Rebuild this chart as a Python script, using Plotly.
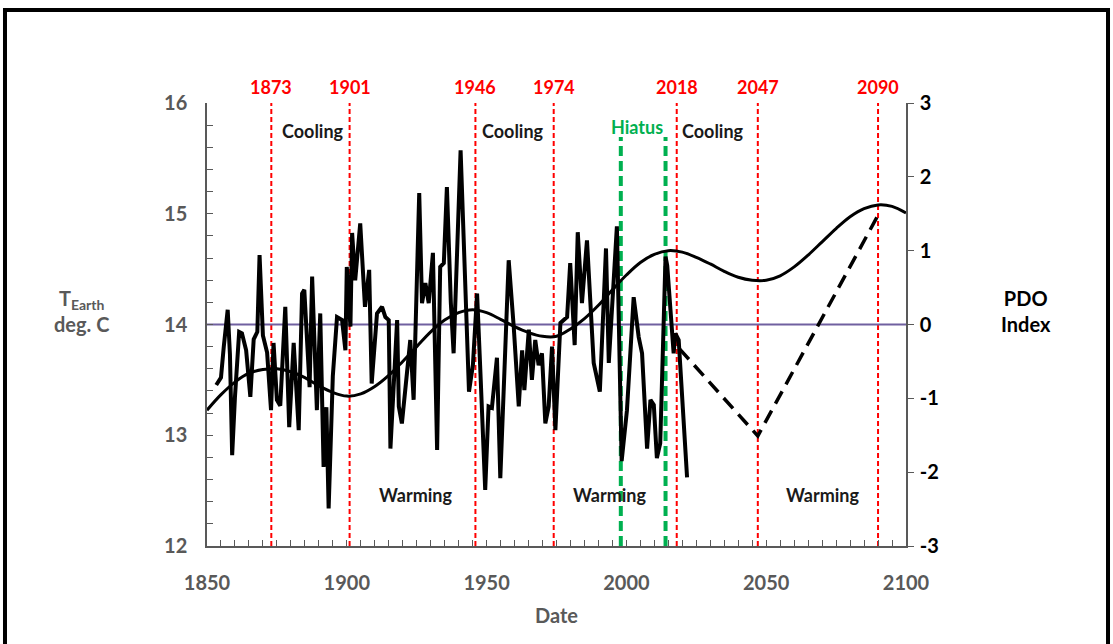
import plotly.graph_objects as go

# Annual PDO index (right axis)
pdo_year = [1853.3, 1855, 1856, 1857.4, 1858.2, 1859, 1860, 1861.5, 1862.5, 1864,
            1865.5, 1866.7, 1868, 1868.8, 1870, 1871.5, 1872.9, 1873.8, 1875, 1876.2,
            1878, 1879.4, 1881, 1882.8, 1884, 1884.8, 1886.7, 1887.6, 1889.3, 1890.5,
            1891.7, 1892.7, 1893.5, 1895, 1896.5, 1898.3, 1899.5, 1900, 1901.3, 1901.9,
            1903, 1904.8, 1906.5, 1908, 1908.9, 1910.8, 1912.6, 1913.8, 1915, 1915.6,
            1918, 1918.6, 1919.7, 1922.7, 1923.9, 1925.9, 1926.9, 1928.1, 1929.3, 1930.8,
            1932.3, 1933.4, 1934.7, 1935.8, 1937.2, 1938.2, 1940.7, 1943.7, 1945.1, 1946.6,
            1947.8, 1949.5, 1950.7, 1951.9, 1953.7, 1954.9, 1957.9, 1959.7, 1961.5, 1962.7,
            1963.5, 1965.1, 1966.2, 1967.4, 1968.6, 1969.8, 1971, 1972.2, 1973.4, 1974.6,
            1976.4, 1978.8, 1979.9, 1981.5, 1982.6, 1984.1, 1985.9, 1988.3, 1990.5, 1992.7,
            1993.7, 1995.2, 1996.6, 1998.3, 2000.2, 2002.6, 2004.4, 2005.6, 2007.4, 2008.6,
            2009.8, 2010.9, 2012.1, 2014, 2014.6, 2016.9, 2017.5, 2018.7, 2021.7]
pdo_value = [-0.82, -0.72, -0.3, 0.2, -0.4, -1.77, -0.98, -0.1, -0.12, -0.35,
             -0.98, -0.2, -0.1, 0.94, -0.15, -0.38, -1.16, -0.25, -1.02, -1.1,
             0.24, -1.39, -0.25, -1.43, 0.42, 0.47, -0.85, 0.65, -1.16, 0.15,
             -1.93, -1.12, -2.49, -0.7, 0.1, 0.06, -0.35, 0.78, -0.03, 1.24,
             0.6, 1.37, 0.24, 0.74, -0.8, 0.15, 0.24, 0.1, 0.06, -1.68,
             0.06, -1.11, -1.34, -0.21, -1.02, 1.78, 0.29, 0.56, 0.29, 0.97,
             -1.7, 0.78, 0.83, 1.86, 0.3, -0.39, 2.36, -0.91, -0.55, 0.42,
             -0.66, -2.24, -1.11, -1.13, -0.45, -2.08, 0.87, -0.03, -1.11, -0.35,
             -0.89, -0.07, -0.75, -0.21, -0.55, -0.39, -1.34, -1.11, -0.3, -1.43,
             0.02, 0.1, 0.83, -0.28, 1.25, 0.29, 1.14, -0.52, -0.91, 1.03,
             -0.52, 0.4, 1.33, -1.85, -1.16, 0.37, -0.17, -0.39, -1.68, -1.02,
             -1.09, -1.81, -1.61, 0.92, 0.8, -0.39, -0.12, -0.21, -2.07]

# Long-period oscillation of the index
cycle_year = [1850, 1855, 1860, 1865, 1870, 1875, 1880, 1885, 1890, 1895,
              1900, 1905, 1910, 1915, 1920, 1925, 1930, 1935, 1940, 1945,
              1950, 1955, 1960, 1965, 1970, 1975, 1980, 1985, 1990, 1995,
              2000, 2005, 2010, 2015, 2020, 2025, 2030, 2035, 2040, 2045,
              2050, 2055, 2060, 2065, 2070, 2075, 2080, 2085, 2090, 2095, 2100]
cycle_value = [-1.16, -0.95, -0.78, -0.66, -0.61, -0.6, -0.64, -0.72, -0.83, -0.92,
               -0.97, -0.94, -0.84, -0.69, -0.5, -0.3, -0.1, 0.06, 0.16, 0.2,
               0.16, 0.07, -0.03, -0.11, -0.16, -0.16, -0.06, 0.08, 0.26, 0.47,
               0.67, 0.84, 0.95, 1.0, 0.98, 0.91, 0.82, 0.72, 0.64, 0.6,
               0.6, 0.66, 0.78, 0.94, 1.12, 1.3, 1.46, 1.57, 1.62, 1.6, 1.51]

# Projected path of the index
proj_year = [2019, 2047, 2090]
proj_value = [-0.33, -1.51, 1.48]

# Phase boundaries
phase_years = [1873, 1901, 1946, 1974, 2018, 2047, 2090]
hiatus_years = [1998, 2014]

cooling_pos = [1887.9, 1959.4, 2031]
warming_pos = [1924.4, 1993.8, 2070]

x_ticks = [1850, 1900, 1950, 2000, 2050, 2100]
t_range = [12, 16]
pdo_range = [-3, 3]
pdo_ticks = [-3, -2, -1, 0, 1, 2, 3]
pdo_tick_text = ["-3", "-2", "-1", "0", "1", "2", "3"]

FONT = "Lato"
GRAY = "#595959"
RED = "#ff0000"
GREEN = "#00b050"

fig = go.Figure()

# Reference line at 14 deg C / PDO 0
fig.add_trace(go.Scatter(x=[1850, 2100], y=[14, 14], mode="lines",
                         line=dict(color="#7060a0", width=2),
                         yaxis="y", showlegend=False, hoverinfo="skip"))

fig.add_trace(go.Scatter(x=pdo_year, y=pdo_value, mode="lines",
                         line=dict(color="black", width=4),
                         yaxis="y2", showlegend=False))
fig.add_trace(go.Scatter(x=cycle_year, y=cycle_value, mode="lines",
                         line=dict(color="black", width=3, shape="spline"),
                         yaxis="y2", showlegend=False))
fig.add_trace(go.Scatter(x=proj_year, y=proj_value, mode="lines",
                         line=dict(color="black", width=3.5, dash="14px,8px"),
                         yaxis="y2", showlegend=False))

shapes = []
annotations = []

for yr in phase_years:
    shapes.append(dict(type="line", xref="x", yref="paper", x0=yr, x1=yr, y0=0, y1=1,
                       layer="below",
                       line=dict(color=RED, width=2, dash="5px,3px")))
    annotations.append(dict(x=yr, xref="x", y=1.036, yref="paper", text=str(yr),
                            showarrow=False, yanchor="middle",
                            font=dict(family=FONT, size=18, color=RED, weight="bold")))

for yr in hiatus_years:
    shapes.append(dict(type="line", xref="x", yref="paper", x0=yr, x1=yr, y0=0, y1=0.923,
                       layer="below",
                       line=dict(color=GREEN, width=4, dash="10px,5px")))
annotations.append(dict(x=2003.8, xref="x", y=15.78, yref="y", text="Hiatus",
                        showarrow=False,
                        font=dict(family=FONT, size=18, color=GREEN, weight="bold")))

for xp in cooling_pos:
    annotations.append(dict(x=xp, xref="x", y=15.75, yref="y", text="Cooling",
                            showarrow=False,
                            font=dict(family=FONT, size=18, color="#1a1a1a", weight="bold")))
for xp in warming_pos:
    annotations.append(dict(x=xp, xref="x", y=12.46, yref="y", text="Warming",
                            showarrow=False,
                            font=dict(family=FONT, size=18, color="#1a1a1a", weight="bold")))

# Axis titles
annotations.append(dict(x=-0.179, xref="paper", y=0.53, yref="paper",
                        xanchor="center", yanchor="middle",
                        text="T<sub>Earth</sub><br>deg. C", showarrow=False,
                        align="center",
                        font=dict(family=FONT, size=20, color=GRAY, weight="bold")))
annotations.append(dict(x=1.1717, xref="paper", y=0.53, yref="paper",
                        xanchor="center", yanchor="middle",
                        text="PDO<br>Index", showarrow=False, align="center",
                        font=dict(family=FONT, size=20, color="black", weight="bold")))
annotations.append(dict(x=0.5, xref="paper", y=-0.156, yref="paper", text="Date",
                        xanchor="center", yanchor="middle", showarrow=False,
                        font=dict(family=FONT, size=20, color=GRAY, weight="bold")))

# Outer frame
shapes.append(dict(type="rect", xref="paper", yref="paper",
                   x0=-0.289, x1=1.289, y0=-0.3, y1=1.21,
                   line=dict(color="black", width=4), layer="below"))

fig.update_layout(
    width=1113, height=644,
    margin=dict(l=207, r=207, t=103, b=98),
    paper_bgcolor="white", plot_bgcolor="white",
    shapes=shapes, annotations=annotations,
    xaxis=dict(range=[1850, 2100], tickvals=x_ticks, ticks="inside", ticklen=6,
               tickcolor=GRAY, showline=True, linecolor=GRAY, linewidth=1.5,
               showgrid=False, zeroline=False, ticklabelstandoff=18,
               minor=dict(dtick=5, ticks="inside", ticklen=6, tickcolor=GRAY),
               tickfont=dict(family=FONT, size=20, color=GRAY, weight="bold")),
    yaxis=dict(range=t_range, dtick=1, ticks="inside", ticklen=6, tickcolor=GRAY,
               showline=True, linecolor=GRAY, linewidth=1.5, showgrid=False,
               zeroline=False, ticklabelstandoff=14,
               minor=dict(dtick=0.2, ticks="inside", ticklen=6, tickcolor=GRAY),
               tickfont=dict(family=FONT, size=20, color=GRAY, weight="bold")),
    yaxis2=dict(range=pdo_range, tickvals=pdo_ticks, ticktext=pdo_tick_text,
                overlaying="y", side="right",
                ticks="outside", ticklen=6, tickcolor=GRAY, showline=True,
                linecolor=GRAY, linewidth=1.5, showgrid=False, zeroline=False,
                ticklabelstandoff=2,
                tickfont=dict(family=FONT, size=20, color="black", weight="bold")),
)

fig.write_html("out.html")
